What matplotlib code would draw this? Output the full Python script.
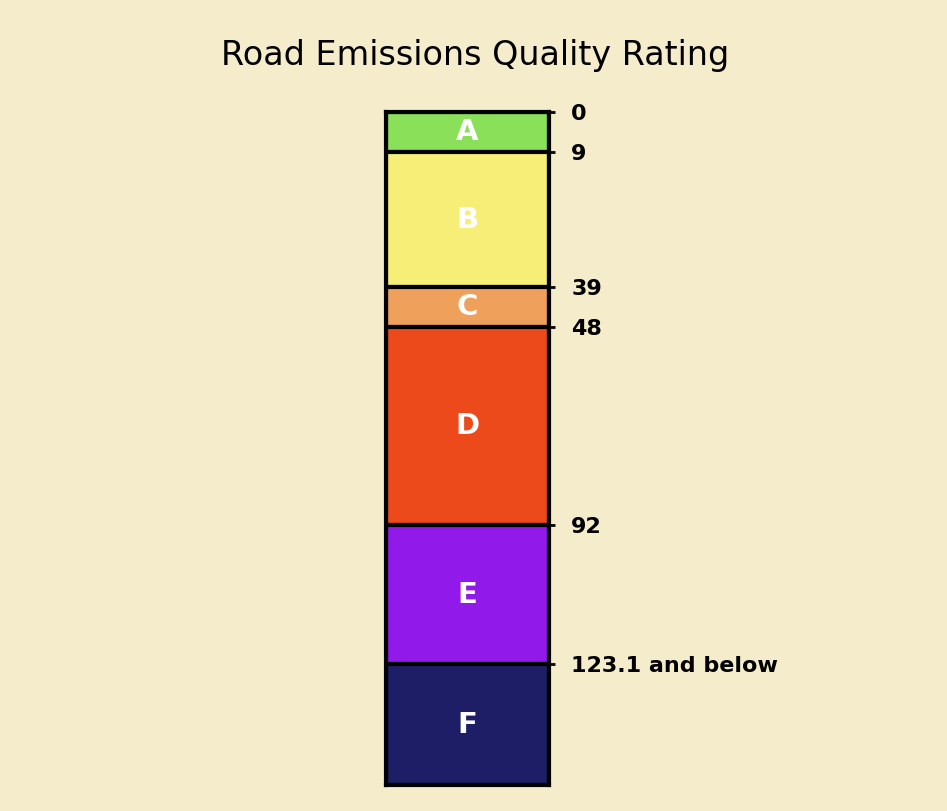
import matplotlib
matplotlib.use("Agg")
import matplotlib.pyplot as plt

grades = ["A", "B", "C", "D", "E", "F"]
thresholds = [0, 9, 39, 48, 92, 123.1]
scale_end = 150
tick_labels = ["0", "9", "39", "48", "92", "123.1 and below"]
colors = ["#8BE05A", "#F7EE77", "#EFA05B", "#EC4A1A", "#911AEB", "#1E1E66"]

bg = "#F5ECCB"
fig = plt.figure(figsize=(9.47, 8.11), dpi=100, facecolor=bg)
ax = fig.add_axes([386/947, (811-785)/811, 163/947, 673/811])
ax.set_facecolor(bg)

ends = thresholds[1:] + [scale_end]
heights = [e - s for s, e in zip(thresholds, ends)]
ax.bar([0]*len(grades), heights, bottom=thresholds, width=1.0,
       color=colors, edgecolor="black", linewidth=3, align="center")
for g, s, h in zip(grades, thresholds, heights):
    ax.text(0, s + h/2, g, ha="center", va="center", color="white",
            fontsize=21, fontweight="bold", family="DejaVu Sans")

ax.set_xlim(-0.5, 0.5)
ax.set_ylim(scale_end, 0)
ax.set_xticks([])
ax.yaxis.tick_right()
ax.set_yticks(thresholds)
ax.set_yticklabels(tick_labels, fontsize=16, fontweight="bold")
ax.tick_params(axis="y", length=4, width=2, pad=12, colors="black")
for sp in ax.spines.values():
    sp.set_linewidth(3)

fig.text(475/947, 1 - 56/811, "Road Emissions Quality Rating", ha="center",
         va="center", fontsize=24, family="DejaVu Sans")

fig.savefig("out.png", dpi=100, facecolor=bg)
